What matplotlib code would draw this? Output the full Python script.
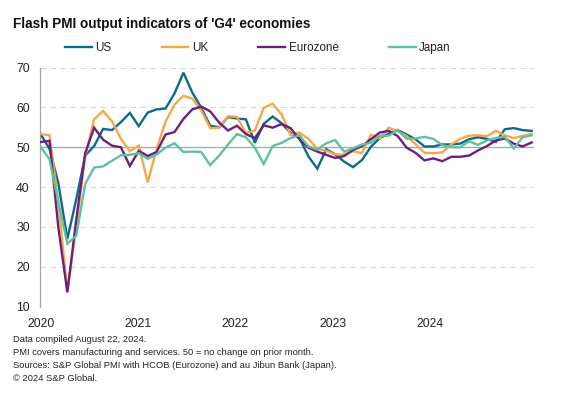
import matplotlib
matplotlib.use("Agg")
import matplotlib.pyplot as plt
import numpy as np

plt.rcParams['font.family'] = ['Liberation Sans', 'DejaVu Sans']

months = list(range(56))  # Jan 2020 .. Aug 2024
year_labels = ["2020", "2021", "2022", "2023", "2024"]

us = [53.3, 49.6, 40.9, 27.0, 37.0, 47.9, 50.3, 54.6, 54.3, 56.3, 58.6, 55.3,
      58.7, 59.5, 59.7, 63.5, 68.7, 63.7, 59.9, 55.4, 55.0, 57.6, 57.2, 57.0,
      51.1, 55.9, 57.7, 56.0, 53.6, 52.3, 47.7, 44.6, 49.5, 48.2, 46.4, 45.0,
      46.8, 50.1, 52.3, 53.4, 54.3, 53.2, 52.0, 50.2, 50.2, 50.7, 50.7, 50.9,
      52.0, 52.5, 52.1, 51.3, 54.5, 54.8, 54.3, 54.1]
uk = [53.3, 53.0, 36.0, 13.8, 30.0, 47.7, 57.0, 59.1, 56.5, 52.1, 49.0, 50.4,
      41.2, 49.6, 56.4, 60.7, 62.9, 62.2, 59.2, 54.8, 54.9, 57.8, 57.6, 53.6,
      54.2, 59.9, 60.9, 58.2, 53.1, 53.7, 52.1, 49.6, 49.1, 48.2, 48.2, 49.0,
      48.5, 53.1, 52.2, 54.9, 54.0, 52.8, 50.8, 48.6, 48.5, 48.7, 50.7, 52.1,
      52.9, 53.0, 52.8, 54.1, 53.0, 52.3, 52.8, 53.4]
eurozone = [51.3, 51.6, 29.7, 13.6, 31.9, 48.5, 54.9, 51.9, 50.4, 50.0, 45.3, 49.1,
            47.8, 48.8, 53.2, 53.8, 57.1, 59.5, 60.2, 59.0, 56.2, 54.2, 55.4, 53.3,
            52.3, 55.5, 54.9, 55.8, 54.8, 52.0, 49.9, 48.9, 48.1, 47.3, 47.8, 49.3,
            50.3, 52.0, 53.7, 54.1, 52.8, 49.9, 48.6, 46.7, 47.2, 46.5, 47.6, 47.6,
            47.9, 49.2, 50.3, 51.7, 52.2, 50.9, 50.2, 51.2]
japan = [50.1, 47.0, 36.2, 25.8, 27.8, 40.8, 44.9, 45.2, 46.6, 48.0, 48.1, 48.5,
         47.1, 48.2, 49.9, 51.0, 48.8, 48.9, 48.8, 45.5, 47.9, 50.7, 53.3, 52.5,
         49.9, 45.8, 50.3, 51.1, 52.3, 53.0, 50.2, 49.4, 51.0, 51.8, 48.9, 49.7,
         50.7, 51.1, 52.9, 52.9, 54.3, 52.1, 52.2, 52.6, 52.1, 50.5, 50.0, 50.0,
         51.5, 50.6, 51.7, 52.3, 52.6, 49.7, 52.5, 53.0]

series = [("US", us, "#0c6a8b"),
          ("UK", uk, "#f4a948"),
          ("Eurozone", eurozone, "#6e1f7e"),
          ("Japan", japan, "#5ec1a0")]

fig = plt.figure(figsize=(5.70, 3.98), dpi=100)
ax = fig.add_axes([0.0693, 0.2294, 0.868, 0.601])

for y in [10, 20, 30, 40, 60, 70]:
    ax.axhline(y, color="#d9d9d9", lw=0.8, ls=(0, (5, 4)), zorder=0)
ax.axhline(50, color="#a6a6a6", lw=0.9, zorder=1)

for name, vals, col in series:
    ax.plot(months, vals, color=col, lw=1.7, label=name, zorder=3,
            solid_joinstyle="miter")

ax.set_ylim(10, 70)
ax.set_yticks([10, 20, 30, 40, 50, 60, 70])
ax.set_xlim(-0.12, 55.3)
ax.set_xticks(np.arange(len(year_labels)) * 10.9)
ax.set_xticklabels(year_labels)
ax.tick_params(axis="both", length=0, labelsize=8.8, colors="#222222")
ax.tick_params(axis="y", pad=7)
ax.tick_params(axis="x", pad=8)
for s in ["top", "right", "bottom"]:
    ax.spines[s].set_visible(False)
ax.spines["left"].set_color("#a6a6a6")
ax.spines["left"].set_linewidth(0.9)

leg = fig.legend(loc="center left", bbox_to_anchor=(0.114, 0.879), ncol=4,
                 frameon=False, fontsize=8.4, handlelength=2.3,
                 handletextpad=0.3, columnspacing=4.3, borderaxespad=0,
                 borderpad=0)
for t in leg.get_texts():
    t.set_color("#222222")

fig.text(13 / 570, 1 - 24 / 398, "Flash PMI output indicators of 'G4' economies",
         fontsize=9.8, fontweight="bold", va="center", ha="left", color="#111111")

notes = ["Data compiled August 22, 2024.",
         "PMI covers manufacturing and services. 50 = no change on prior month.",
         "Sources: S&P Global PMI with HCOB (Eurozone) and au Jibun Bank (Japan).",
         "\u00a9 2024 S&P Global."]
for i, line in enumerate(notes):
    fig.text(13 / 570, 1 - (340 + i * 12.8) / 398, line, fontsize=6.75,
             va="center", ha="left", color="#222222")

fig.savefig("out.png", dpi=100)
